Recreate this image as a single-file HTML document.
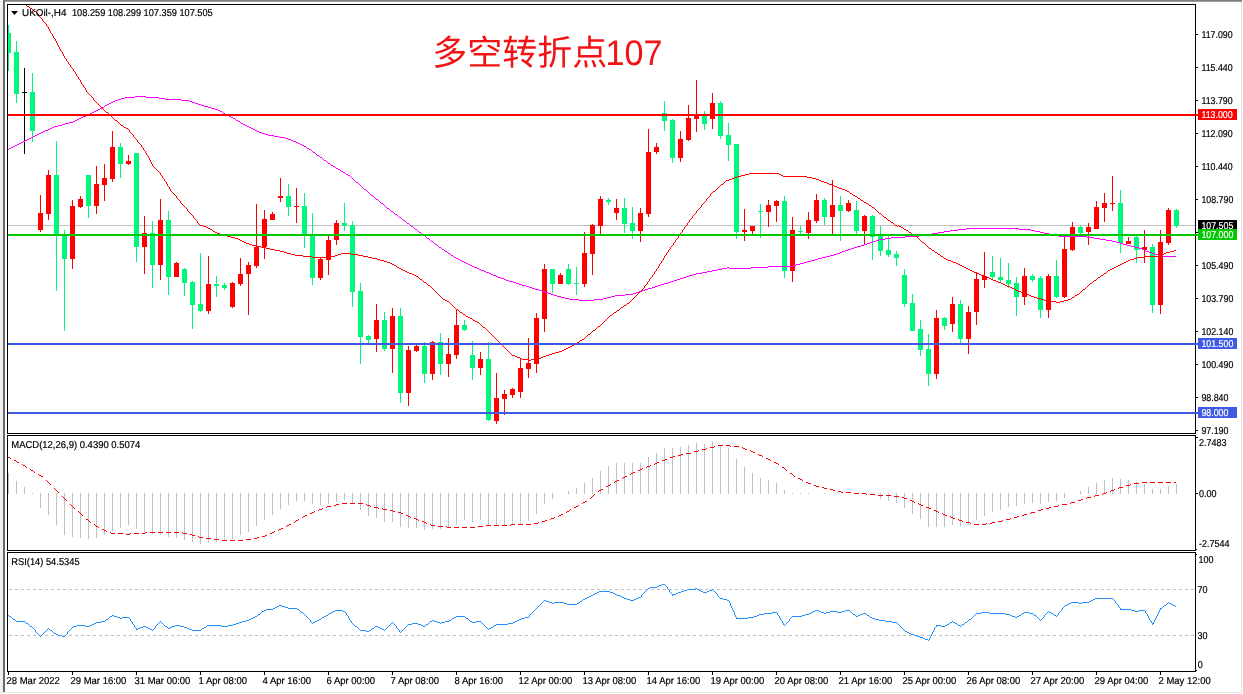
<!DOCTYPE html><html><head><meta charset="utf-8"><title>UKOil H4</title>
<style>html,body{margin:0;padding:0;background:#fff}body{width:1243px;height:694px;overflow:hidden}svg{display:block}text{font-family:"Liberation Sans","Noto Sans CJK SC",sans-serif;font-size:10px;text-rendering:geometricPrecision;fill:#000;stroke:#000;stroke-width:.2px}.w{fill:#fff;stroke:#fff}.ttl{font-size:35px;fill:#f21414;font-weight:400;stroke:none}</style></head><body>
<svg width="1243" height="694" viewBox="0 0 1243 694">
<rect width="1243" height="694" fill="#fff"/>
<g shape-rendering="crispEdges">
<rect x="0" y="0" width="1242" height="1" fill="#7c7c7c"/><rect x="0" y="1" width="1242" height="1" fill="#9c9c9c"/>
<rect x="0" y="0" width="3" height="694" fill="#f0f0f0"/>
<rect x="3" y="1" width="2" height="692" fill="#696969"/>
<rect x="1241" y="2" width="1" height="691" fill="#e3e3e3"/>
<rect x="3" y="692" width="1239" height="1" fill="#e3e3e3"/>
<rect x="7" y="4" width="1" height="668" fill="#000"/>
<rect x="1195" y="4" width="1" height="668" fill="#000"/>
<rect x="7" y="4" width="1189" height="1" fill="#000"/>
<rect x="7" y="433" width="1189" height="1" fill="#000"/>
<rect x="7" y="435" width="1189" height="1" fill="#000"/>
<rect x="7" y="550" width="1189" height="1" fill="#000"/>
<rect x="7" y="552" width="1189" height="1" fill="#000"/>
<rect x="7" y="671" width="1189" height="1" fill="#000"/>
<rect x="7" y="434" width="1" height="1" fill="#fff"/>
<rect x="1195" y="434" width="1" height="1" fill="#fff"/>
<rect x="7" y="551" width="1" height="1" fill="#fff"/>
<rect x="1195" y="551" width="1" height="1" fill="#fff"/>
<rect x="1196" y="34" width="2" height="1" fill="#000"/>
<rect x="1196" y="67" width="2" height="1" fill="#000"/>
<rect x="1196" y="100" width="2" height="1" fill="#000"/>
<rect x="1196" y="133" width="2" height="1" fill="#000"/>
<rect x="1196" y="166" width="2" height="1" fill="#000"/>
<rect x="1196" y="199" width="2" height="1" fill="#000"/>
<rect x="1196" y="232" width="2" height="1" fill="#000"/>
<rect x="1196" y="265" width="2" height="1" fill="#000"/>
<rect x="1196" y="298" width="2" height="1" fill="#000"/>
<rect x="1196" y="331" width="2" height="1" fill="#000"/>
<rect x="1196" y="364" width="2" height="1" fill="#000"/>
<rect x="1196" y="397" width="2" height="1" fill="#000"/>
<rect x="1196" y="430" width="2" height="1" fill="#000"/>
<rect x="1196" y="437" width="2" height="1" fill="#000"/>
<rect x="1196" y="493" width="2" height="1" fill="#000"/>
<rect x="1196" y="549" width="1" height="1" fill="#000"/>
<rect x="1196" y="554" width="1" height="1" fill="#000"/>
<rect x="1196" y="670" width="1" height="1" fill="#000"/>
<rect x="8" y="672" width="1" height="3" fill="#000"/>
<rect x="72" y="672" width="1" height="3" fill="#000"/>
<rect x="136" y="672" width="1" height="3" fill="#000"/>
<rect x="200" y="672" width="1" height="3" fill="#000"/>
<rect x="264" y="672" width="1" height="3" fill="#000"/>
<rect x="328" y="672" width="1" height="3" fill="#000"/>
<rect x="392" y="672" width="1" height="3" fill="#000"/>
<rect x="456" y="672" width="1" height="3" fill="#000"/>
<rect x="520" y="672" width="1" height="3" fill="#000"/>
<rect x="584" y="672" width="1" height="3" fill="#000"/>
<rect x="648" y="672" width="1" height="3" fill="#000"/>
<rect x="712" y="672" width="1" height="3" fill="#000"/>
<rect x="776" y="672" width="1" height="3" fill="#000"/>
<rect x="840" y="672" width="1" height="3" fill="#000"/>
<rect x="904" y="672" width="1" height="3" fill="#000"/>
<rect x="968" y="672" width="1" height="3" fill="#000"/>
<rect x="1032" y="672" width="1" height="3" fill="#000"/>
<rect x="1096" y="672" width="1" height="3" fill="#000"/>
<rect x="1160" y="672" width="1" height="3" fill="#000"/>
</g>
<defs><clipPath id="cm"><rect x="8" y="5" width="1187" height="428"/></clipPath><clipPath id="c2"><rect x="8" y="436" width="1187" height="114"/></clipPath><clipPath id="c3"><rect x="8" y="553" width="1187" height="118"/></clipPath><clipPath id="cb"><rect x="1198" y="220" width="39" height="9"/></clipPath></defs>
<g clip-path="url(#cm)" shape-rendering="crispEdges">
<rect x="8" y="225" width="1187" height="1" fill="#c0c0c0"/>
<rect x="8" y="25" width="1" height="46" fill="#00f77c"/>
<rect x="6" y="33" width="5" height="20" fill="#00f77c"/>
<rect x="16" y="41" width="1" height="62" fill="#00f77c"/>
<rect x="14" y="52" width="5" height="42" fill="#00f77c"/>
<rect x="24" y="68" width="1" height="86" fill="#000"/>
<rect x="22" y="92" width="5" height="1" fill="#000"/>
<rect x="32" y="73" width="1" height="69" fill="#00f77c"/>
<rect x="30" y="92" width="5" height="39" fill="#00f77c"/>
<rect x="40" y="195" width="1" height="37" fill="#ff0000"/>
<rect x="38" y="213" width="5" height="17" fill="#ff0000"/>
<rect x="48" y="170" width="1" height="50" fill="#ff0000"/>
<rect x="46" y="175" width="5" height="39" fill="#ff0000"/>
<rect x="56" y="141" width="1" height="150" fill="#00f77c"/>
<rect x="54" y="175" width="5" height="59" fill="#00f77c"/>
<rect x="64" y="230" width="1" height="101" fill="#00f77c"/>
<rect x="62" y="235" width="5" height="24" fill="#00f77c"/>
<rect x="72" y="200" width="1" height="69" fill="#ff0000"/>
<rect x="70" y="206" width="5" height="53" fill="#ff0000"/>
<rect x="80" y="196" width="1" height="12" fill="#ff0000"/>
<rect x="78" y="199" width="5" height="8" fill="#ff0000"/>
<rect x="88" y="175" width="1" height="43" fill="#00f77c"/>
<rect x="86" y="175" width="5" height="31" fill="#00f77c"/>
<rect x="96" y="166" width="1" height="48" fill="#ff0000"/>
<rect x="94" y="184" width="5" height="22" fill="#ff0000"/>
<rect x="104" y="164" width="1" height="37" fill="#ff0000"/>
<rect x="102" y="178" width="5" height="7" fill="#ff0000"/>
<rect x="112" y="131" width="1" height="51" fill="#ff0000"/>
<rect x="110" y="147" width="5" height="32" fill="#ff0000"/>
<rect x="120" y="143" width="1" height="35" fill="#00f77c"/>
<rect x="118" y="147" width="5" height="17" fill="#00f77c"/>
<rect x="128" y="155" width="1" height="10" fill="#ff0000"/>
<rect x="126" y="161" width="5" height="3" fill="#ff0000"/>
<rect x="136" y="153" width="1" height="109" fill="#00f77c"/>
<rect x="134" y="153" width="5" height="94" fill="#00f77c"/>
<rect x="144" y="216" width="1" height="58" fill="#ff0000"/>
<rect x="142" y="233" width="5" height="14" fill="#ff0000"/>
<rect x="152" y="221" width="1" height="67" fill="#00f77c"/>
<rect x="150" y="233" width="5" height="32" fill="#00f77c"/>
<rect x="160" y="199" width="1" height="81" fill="#ff0000"/>
<rect x="158" y="220" width="5" height="45" fill="#ff0000"/>
<rect x="168" y="211" width="1" height="84" fill="#00f77c"/>
<rect x="166" y="220" width="5" height="57" fill="#00f77c"/>
<rect x="176" y="262" width="1" height="15" fill="#ff0000"/>
<rect x="174" y="263" width="5" height="14" fill="#ff0000"/>
<rect x="184" y="268" width="1" height="28" fill="#00f77c"/>
<rect x="182" y="269" width="5" height="14" fill="#00f77c"/>
<rect x="192" y="281" width="1" height="48" fill="#00f77c"/>
<rect x="190" y="282" width="5" height="23" fill="#00f77c"/>
<rect x="200" y="253" width="1" height="59" fill="#00f77c"/>
<rect x="198" y="304" width="5" height="7" fill="#00f77c"/>
<rect x="208" y="256" width="1" height="58" fill="#ff0000"/>
<rect x="206" y="284" width="5" height="27" fill="#ff0000"/>
<rect x="216" y="276" width="1" height="21" fill="#00f77c"/>
<rect x="214" y="284" width="5" height="2" fill="#00f77c"/>
<rect x="224" y="283" width="1" height="7" fill="#00f77c"/>
<rect x="222" y="285" width="5" height="3" fill="#00f77c"/>
<rect x="232" y="282" width="1" height="26" fill="#ff0000"/>
<rect x="230" y="283" width="5" height="24" fill="#ff0000"/>
<rect x="240" y="258" width="1" height="28" fill="#ff0000"/>
<rect x="238" y="274" width="5" height="10" fill="#ff0000"/>
<rect x="248" y="262" width="1" height="53" fill="#ff0000"/>
<rect x="246" y="265" width="5" height="9" fill="#ff0000"/>
<rect x="256" y="204" width="1" height="64" fill="#ff0000"/>
<rect x="254" y="247" width="5" height="19" fill="#ff0000"/>
<rect x="264" y="210" width="1" height="49" fill="#ff0000"/>
<rect x="262" y="219" width="5" height="28" fill="#ff0000"/>
<rect x="272" y="212" width="1" height="8" fill="#ff0000"/>
<rect x="270" y="214" width="5" height="6" fill="#ff0000"/>
<rect x="280" y="178" width="1" height="24" fill="#ff0000"/>
<rect x="278" y="196" width="5" height="2" fill="#ff0000"/>
<rect x="288" y="184" width="1" height="32" fill="#00f77c"/>
<rect x="286" y="196" width="5" height="11" fill="#00f77c"/>
<rect x="296" y="188" width="1" height="35" fill="#ff0000"/>
<rect x="294" y="206" width="5" height="1" fill="#ff0000"/>
<rect x="304" y="193" width="1" height="55" fill="#00f77c"/>
<rect x="302" y="206" width="5" height="30" fill="#00f77c"/>
<rect x="312" y="213" width="1" height="72" fill="#00f77c"/>
<rect x="310" y="234" width="5" height="44" fill="#00f77c"/>
<rect x="320" y="258" width="1" height="22" fill="#ff0000"/>
<rect x="318" y="259" width="5" height="19" fill="#ff0000"/>
<rect x="328" y="236" width="1" height="39" fill="#ff0000"/>
<rect x="326" y="240" width="5" height="20" fill="#ff0000"/>
<rect x="336" y="220" width="1" height="25" fill="#ff0000"/>
<rect x="334" y="223" width="5" height="17" fill="#ff0000"/>
<rect x="344" y="203" width="1" height="28" fill="#00f77c"/>
<rect x="342" y="223" width="5" height="3" fill="#00f77c"/>
<rect x="352" y="221" width="1" height="86" fill="#00f77c"/>
<rect x="350" y="225" width="5" height="67" fill="#00f77c"/>
<rect x="360" y="283" width="1" height="81" fill="#00f77c"/>
<rect x="358" y="291" width="5" height="46" fill="#00f77c"/>
<rect x="368" y="335" width="1" height="8" fill="#00f77c"/>
<rect x="366" y="336" width="5" height="4" fill="#00f77c"/>
<rect x="376" y="304" width="1" height="48" fill="#ff0000"/>
<rect x="374" y="320" width="5" height="19" fill="#ff0000"/>
<rect x="384" y="312" width="1" height="39" fill="#00f77c"/>
<rect x="382" y="320" width="5" height="29" fill="#00f77c"/>
<rect x="392" y="308" width="1" height="65" fill="#ff0000"/>
<rect x="390" y="316" width="5" height="33" fill="#ff0000"/>
<rect x="400" y="308" width="1" height="95" fill="#00f77c"/>
<rect x="398" y="316" width="5" height="77" fill="#00f77c"/>
<rect x="408" y="346" width="1" height="60" fill="#ff0000"/>
<rect x="406" y="350" width="5" height="43" fill="#ff0000"/>
<rect x="416" y="345" width="1" height="7" fill="#ff0000"/>
<rect x="414" y="346" width="5" height="5" fill="#ff0000"/>
<rect x="424" y="342" width="1" height="41" fill="#00f77c"/>
<rect x="422" y="346" width="5" height="28" fill="#00f77c"/>
<rect x="432" y="341" width="1" height="39" fill="#ff0000"/>
<rect x="430" y="342" width="5" height="32" fill="#ff0000"/>
<rect x="440" y="333" width="1" height="42" fill="#00f77c"/>
<rect x="438" y="342" width="5" height="22" fill="#00f77c"/>
<rect x="448" y="338" width="1" height="39" fill="#ff0000"/>
<rect x="446" y="354" width="5" height="10" fill="#ff0000"/>
<rect x="456" y="310" width="1" height="49" fill="#ff0000"/>
<rect x="454" y="325" width="5" height="30" fill="#ff0000"/>
<rect x="464" y="320" width="1" height="11" fill="#00f77c"/>
<rect x="462" y="325" width="5" height="5" fill="#00f77c"/>
<rect x="472" y="341" width="1" height="39" fill="#00f77c"/>
<rect x="470" y="355" width="5" height="13" fill="#00f77c"/>
<rect x="480" y="352" width="1" height="23" fill="#ff0000"/>
<rect x="478" y="359" width="5" height="9" fill="#ff0000"/>
<rect x="488" y="342" width="1" height="79" fill="#00f77c"/>
<rect x="486" y="359" width="5" height="61" fill="#00f77c"/>
<rect x="496" y="373" width="1" height="51" fill="#ff0000"/>
<rect x="494" y="398" width="5" height="23" fill="#ff0000"/>
<rect x="504" y="390" width="1" height="25" fill="#ff0000"/>
<rect x="502" y="394" width="5" height="5" fill="#ff0000"/>
<rect x="512" y="388" width="1" height="10" fill="#ff0000"/>
<rect x="510" y="389" width="5" height="6" fill="#ff0000"/>
<rect x="520" y="358" width="1" height="40" fill="#ff0000"/>
<rect x="518" y="368" width="5" height="24" fill="#ff0000"/>
<rect x="528" y="338" width="1" height="40" fill="#ff0000"/>
<rect x="526" y="363" width="5" height="6" fill="#ff0000"/>
<rect x="536" y="313" width="1" height="60" fill="#ff0000"/>
<rect x="534" y="318" width="5" height="46" fill="#ff0000"/>
<rect x="544" y="264" width="1" height="68" fill="#ff0000"/>
<rect x="542" y="269" width="5" height="50" fill="#ff0000"/>
<rect x="552" y="269" width="1" height="24" fill="#00f77c"/>
<rect x="550" y="269" width="5" height="15" fill="#00f77c"/>
<rect x="560" y="273" width="1" height="11" fill="#ff0000"/>
<rect x="558" y="275" width="5" height="9" fill="#ff0000"/>
<rect x="568" y="264" width="1" height="21" fill="#00f77c"/>
<rect x="566" y="269" width="5" height="15" fill="#00f77c"/>
<rect x="576" y="267" width="1" height="28" fill="#00f77c"/>
<rect x="574" y="283" width="5" height="1" fill="#00f77c"/>
<rect x="584" y="232" width="1" height="55" fill="#ff0000"/>
<rect x="582" y="253" width="5" height="31" fill="#ff0000"/>
<rect x="592" y="224" width="1" height="51" fill="#ff0000"/>
<rect x="590" y="225" width="5" height="29" fill="#ff0000"/>
<rect x="600" y="196" width="1" height="38" fill="#ff0000"/>
<rect x="598" y="199" width="5" height="27" fill="#ff0000"/>
<rect x="608" y="198" width="1" height="7" fill="#00f77c"/>
<rect x="606" y="200" width="5" height="2" fill="#00f77c"/>
<rect x="616" y="199" width="1" height="21" fill="#ff0000"/>
<rect x="614" y="208" width="5" height="5" fill="#ff0000"/>
<rect x="624" y="198" width="1" height="35" fill="#00f77c"/>
<rect x="622" y="208" width="5" height="16" fill="#00f77c"/>
<rect x="632" y="207" width="1" height="32" fill="#00f77c"/>
<rect x="630" y="223" width="5" height="8" fill="#00f77c"/>
<rect x="640" y="208" width="1" height="34" fill="#ff0000"/>
<rect x="638" y="213" width="5" height="18" fill="#ff0000"/>
<rect x="648" y="129" width="1" height="88" fill="#ff0000"/>
<rect x="646" y="152" width="5" height="62" fill="#ff0000"/>
<rect x="656" y="143" width="1" height="11" fill="#ff0000"/>
<rect x="654" y="147" width="5" height="5" fill="#ff0000"/>
<rect x="664" y="101" width="1" height="30" fill="#00f77c"/>
<rect x="662" y="113" width="5" height="8" fill="#00f77c"/>
<rect x="672" y="119" width="1" height="44" fill="#00f77c"/>
<rect x="670" y="120" width="5" height="38" fill="#00f77c"/>
<rect x="680" y="131" width="1" height="31" fill="#ff0000"/>
<rect x="678" y="139" width="5" height="19" fill="#ff0000"/>
<rect x="688" y="105" width="1" height="36" fill="#ff0000"/>
<rect x="686" y="118" width="5" height="22" fill="#ff0000"/>
<rect x="696" y="80" width="1" height="52" fill="#ff0000"/>
<rect x="694" y="115" width="5" height="4" fill="#ff0000"/>
<rect x="704" y="111" width="1" height="19" fill="#00f77c"/>
<rect x="702" y="116" width="5" height="8" fill="#00f77c"/>
<rect x="712" y="93" width="1" height="36" fill="#ff0000"/>
<rect x="710" y="103" width="5" height="16" fill="#ff0000"/>
<rect x="720" y="101" width="1" height="38" fill="#00f77c"/>
<rect x="718" y="103" width="5" height="33" fill="#00f77c"/>
<rect x="728" y="123" width="1" height="38" fill="#00f77c"/>
<rect x="726" y="135" width="5" height="10" fill="#00f77c"/>
<rect x="736" y="144" width="1" height="95" fill="#00f77c"/>
<rect x="734" y="144" width="5" height="88" fill="#00f77c"/>
<rect x="744" y="209" width="1" height="32" fill="#ff0000"/>
<rect x="742" y="230" width="5" height="2" fill="#ff0000"/>
<rect x="752" y="226" width="1" height="8" fill="#ff0000"/>
<rect x="750" y="226" width="5" height="5" fill="#ff0000"/>
<rect x="760" y="204" width="1" height="34" fill="#00f77c"/>
<rect x="758" y="211" width="5" height="1" fill="#00f77c"/>
<rect x="768" y="200" width="1" height="27" fill="#ff0000"/>
<rect x="766" y="205" width="5" height="7" fill="#ff0000"/>
<rect x="776" y="200" width="1" height="22" fill="#ff0000"/>
<rect x="774" y="201" width="5" height="5" fill="#ff0000"/>
<rect x="784" y="196" width="1" height="82" fill="#00f77c"/>
<rect x="782" y="201" width="5" height="70" fill="#00f77c"/>
<rect x="792" y="217" width="1" height="65" fill="#ff0000"/>
<rect x="790" y="230" width="5" height="41" fill="#ff0000"/>
<rect x="800" y="226" width="1" height="9" fill="#00f77c"/>
<rect x="798" y="231" width="5" height="1" fill="#00f77c"/>
<rect x="808" y="212" width="1" height="27" fill="#ff0000"/>
<rect x="806" y="220" width="5" height="13" fill="#ff0000"/>
<rect x="816" y="194" width="1" height="29" fill="#ff0000"/>
<rect x="814" y="200" width="5" height="21" fill="#ff0000"/>
<rect x="824" y="198" width="1" height="27" fill="#00f77c"/>
<rect x="822" y="200" width="5" height="17" fill="#00f77c"/>
<rect x="832" y="180" width="1" height="55" fill="#ff0000"/>
<rect x="830" y="205" width="5" height="12" fill="#ff0000"/>
<rect x="840" y="196" width="1" height="45" fill="#00f77c"/>
<rect x="838" y="205" width="5" height="6" fill="#00f77c"/>
<rect x="848" y="200" width="1" height="12" fill="#ff0000"/>
<rect x="846" y="203" width="5" height="8" fill="#ff0000"/>
<rect x="856" y="201" width="1" height="34" fill="#00f77c"/>
<rect x="854" y="210" width="5" height="21" fill="#00f77c"/>
<rect x="864" y="215" width="1" height="29" fill="#ff0000"/>
<rect x="862" y="216" width="5" height="15" fill="#ff0000"/>
<rect x="872" y="215" width="1" height="45" fill="#00f77c"/>
<rect x="870" y="216" width="5" height="21" fill="#00f77c"/>
<rect x="880" y="226" width="1" height="30" fill="#00f77c"/>
<rect x="878" y="236" width="5" height="15" fill="#00f77c"/>
<rect x="888" y="236" width="1" height="21" fill="#00f77c"/>
<rect x="886" y="250" width="5" height="5" fill="#00f77c"/>
<rect x="896" y="251" width="1" height="15" fill="#00f77c"/>
<rect x="894" y="254" width="5" height="4" fill="#00f77c"/>
<rect x="904" y="269" width="1" height="38" fill="#00f77c"/>
<rect x="902" y="275" width="5" height="29" fill="#00f77c"/>
<rect x="912" y="294" width="1" height="37" fill="#00f77c"/>
<rect x="910" y="303" width="5" height="28" fill="#00f77c"/>
<rect x="920" y="320" width="1" height="36" fill="#00f77c"/>
<rect x="918" y="329" width="5" height="21" fill="#00f77c"/>
<rect x="928" y="334" width="1" height="52" fill="#00f77c"/>
<rect x="926" y="349" width="5" height="25" fill="#00f77c"/>
<rect x="936" y="310" width="1" height="69" fill="#ff0000"/>
<rect x="934" y="318" width="5" height="56" fill="#ff0000"/>
<rect x="944" y="317" width="1" height="13" fill="#00f77c"/>
<rect x="942" y="318" width="5" height="8" fill="#00f77c"/>
<rect x="952" y="297" width="1" height="35" fill="#ff0000"/>
<rect x="950" y="304" width="5" height="20" fill="#ff0000"/>
<rect x="960" y="300" width="1" height="43" fill="#00f77c"/>
<rect x="958" y="304" width="5" height="35" fill="#00f77c"/>
<rect x="968" y="306" width="1" height="48" fill="#ff0000"/>
<rect x="966" y="312" width="5" height="27" fill="#ff0000"/>
<rect x="976" y="273" width="1" height="52" fill="#ff0000"/>
<rect x="974" y="279" width="5" height="33" fill="#ff0000"/>
<rect x="984" y="252" width="1" height="36" fill="#ff0000"/>
<rect x="982" y="276" width="5" height="4" fill="#ff0000"/>
<rect x="992" y="256" width="1" height="24" fill="#00f77c"/>
<rect x="990" y="272" width="5" height="5" fill="#00f77c"/>
<rect x="1000" y="258" width="1" height="25" fill="#00f77c"/>
<rect x="998" y="277" width="5" height="3" fill="#00f77c"/>
<rect x="1008" y="263" width="1" height="25" fill="#00f77c"/>
<rect x="1006" y="280" width="5" height="4" fill="#00f77c"/>
<rect x="1016" y="277" width="1" height="39" fill="#00f77c"/>
<rect x="1014" y="283" width="5" height="14" fill="#00f77c"/>
<rect x="1024" y="268" width="1" height="37" fill="#ff0000"/>
<rect x="1022" y="276" width="5" height="21" fill="#ff0000"/>
<rect x="1032" y="274" width="1" height="8" fill="#00f77c"/>
<rect x="1030" y="276" width="5" height="4" fill="#00f77c"/>
<rect x="1040" y="276" width="1" height="42" fill="#00f77c"/>
<rect x="1038" y="278" width="5" height="32" fill="#00f77c"/>
<rect x="1048" y="274" width="1" height="44" fill="#ff0000"/>
<rect x="1046" y="276" width="5" height="34" fill="#ff0000"/>
<rect x="1056" y="260" width="1" height="38" fill="#00f77c"/>
<rect x="1054" y="276" width="5" height="21" fill="#00f77c"/>
<rect x="1064" y="237" width="1" height="61" fill="#ff0000"/>
<rect x="1062" y="249" width="5" height="48" fill="#ff0000"/>
<rect x="1072" y="222" width="1" height="29" fill="#ff0000"/>
<rect x="1070" y="227" width="5" height="23" fill="#ff0000"/>
<rect x="1080" y="226" width="1" height="8" fill="#00f77c"/>
<rect x="1078" y="227" width="5" height="6" fill="#00f77c"/>
<rect x="1088" y="223" width="1" height="22" fill="#ff0000"/>
<rect x="1086" y="227" width="5" height="5" fill="#ff0000"/>
<rect x="1096" y="201" width="1" height="28" fill="#ff0000"/>
<rect x="1094" y="207" width="5" height="22" fill="#ff0000"/>
<rect x="1104" y="193" width="1" height="29" fill="#ff0000"/>
<rect x="1102" y="203" width="5" height="5" fill="#ff0000"/>
<rect x="1112" y="176" width="1" height="35" fill="#ff0000"/>
<rect x="1110" y="203" width="5" height="1" fill="#ff0000"/>
<rect x="1120" y="190" width="1" height="63" fill="#00f77c"/>
<rect x="1118" y="203" width="5" height="40" fill="#00f77c"/>
<rect x="1128" y="237" width="1" height="7" fill="#ff0000"/>
<rect x="1126" y="241" width="5" height="3" fill="#ff0000"/>
<rect x="1136" y="236" width="1" height="27" fill="#00f77c"/>
<rect x="1134" y="237" width="5" height="13" fill="#00f77c"/>
<rect x="1144" y="230" width="1" height="33" fill="#ff0000"/>
<rect x="1142" y="247" width="5" height="3" fill="#ff0000"/>
<rect x="1152" y="244" width="1" height="69" fill="#00f77c"/>
<rect x="1150" y="247" width="5" height="58" fill="#00f77c"/>
<rect x="1160" y="230" width="1" height="84" fill="#ff0000"/>
<rect x="1158" y="242" width="5" height="63" fill="#ff0000"/>
<rect x="1168" y="208" width="1" height="37" fill="#ff0000"/>
<rect x="1166" y="210" width="5" height="33" fill="#ff0000"/>
<rect x="1176" y="209" width="1" height="19" fill="#00f77c"/>
<rect x="1174" y="210" width="5" height="16" fill="#00f77c"/>
<path transform="translate(0,.5)" d="M8 149h1m0-1h2m0-1h2m0-1h2m0-1h2m0-1h2m0-1h2m0-1h2m0-1h2m0-1h2m0-1h2m0-1h2m0-1h2m0-1h2m0-1h2m0-1h2m0-1h2m0-1h2m0-1h2m0-1h3m0-1h2m0-1h2m0-1h2m0-1h4m0-1h4m0-1h3m0-1h4m0-1h4m0-1h2m0-1h2m0-1h2m0-1h2m0-1h2m0-1h3m0-1h2m0-1h2m0-1h2m0-1h2m0-1h2m0-1h2m0-1h2m0-1h2m0-1h2m0-1h1m0-1h2m0-1h2m0-1h2m0-1h2m0-1h2m0-1h3m0-1h3m0-1h4m0-1h10m0-1h11m0 1h13m0 1h6m0 1h16m0 1h8m0 1h3m0 1h3m0 1h3m0 1h3m0 1h3m0 1h4m0 1h3m0 1h4m0 1h3m0 1h2m0 1h2m0 1h1m0 1h2m0 1h2m0 1h2m0 1h2m0 1h2m0 1h2m0 1h1m0 1h2m0 1h2m0 1h1m0 1h2m0 1h2m0 1h2m0 1h2m0 1h2m0 1h2m0 1h2m0 1h2m0 1h2m0 1h3m0 1h3m0 1h3m0 1h6m0 1h5m0 1h6m0 1h3m0 1h3m0 1h2m0 1h3m0 1h2m0 1h2m0 1h2m0 1h2m0 1h2m0 1h1m0 1h2m0 1h2m0 1h1m0 1h1m0 1h2m0 1h1m0 1h1m0 1h2m0 1h1m0 1h2m0 1h1m0 1h1m0 1h2m0 1h1m0 1h1m0 1h2m0 1h1m0 1h2m0 1h2m0 1h1m0 1h2m0 1h2m0 1h1m0 1h2m0 1h2m0 1h1m0 1h2m0 1h2m0 1h1m0 1h1m0 1h1m0 1h1m0 1h1m0 1h1m0 1h2m0 1h1m0 1h1m0 1h1m0 1h1m0 1h1m0 1h1m0 1h2m0 1h1m0 1h1m0 1h1m0 1h1m0 1h1m0 1h2m0 1h1m0 1h1m0 1h1m0 1h2m0 1h1m0 1h1m0 1h1m0 1h2m0 1h1m0 1h1m0 1h1m0 1h1m0 1h2m0 1h1m0 1h1m0 1h2m0 1h1m0 1h1m0 1h2m0 1h1m0 1h1m0 1h2m0 1h1m0 1h1m0 1h2m0 1h1m0 1h1m0 1h2m0 1h1m0 1h1m0 1h2m0 1h1m0 1h1m0 1h2m0 1h1m0 1h1m0 1h2m0 1h1m0 1h1m0 1h2m0 1h1m0 1h1m0 1h2m0 1h1m0 1h1m0 1h2m0 1h1m0 1h1m0 1h2m0 1h1m0 1h1m0 1h2m0 1h1m0 1h2m0 1h1m0 1h2m0 1h1m0 1h2m0 1h1m0 1h2m0 1h1m0 1h2m0 1h2m0 1h2m0 1h2m0 1h2m0 1h2m0 1h2m0 1h2m0 1h2m0 1h2m0 1h3m0 1h2m0 1h2m0 1h3m0 1h2m0 1h3m0 1h2m0 1h2m0 1h3m0 1h2m0 1h3m0 1h3m0 1h2m0 1h3m0 1h4m0 1h3m0 1h3m0 1h3m0 1h4m0 1h3m0 1h3m0 1h3m0 1h4m0 1h3m0 1h3m0 1h3m0 1h3m0 1h3m0 1h3m0 1h4m0 1h4m0 1h4m0 1h10m0 1h15m0-1h9m0-1h4m0-1h4m0-1h4m0-1h10m0-1h8m0-1h3m0-1h3m0-1h3m0-1h3m0-1h3m0-1h4m0-1h3m0-1h3m0-1h3m0-1h3m0-1h4m0-1h3m0-1h3m0-1h3m0-1h3m0-1h3m0-1h3m0-1h3m0-1h4m0-1h3m0-1h6m0-1h5m0-1h5m0-1h5m0-1h5m0-1h5m0-1h2m0 1h22m0-1h17m0-1h25m0-1h3m0-1h4m0-1h4m0-1h3m0-1h4m0-1h4m0-1h3m0-1h4m0-1h4m0-1h4m0-1h4m0-1h3m0-1h3m0-1h2m0-1h3m0-1h3m0-1h3m0-1h3m0-1h3m0-1h4m0-1h3m0-1h3m0-1h3m0-1h3m0-1h3m0-1h3m0-1h6m0-1h6m0-1h14m0-1h14m0-1h7m0-1h6m0-1h6m0-1h6m0-1h6m0-1h8m0-1h8m0-1h53m0 1h12m0 1h4m0 1h5m0 1h4m0 1h5m0 1h5m0 1h5m0 1h28m0 1h7m0 1h6m0 1h6m0 1h6m0 1h4m0 1h4m0 1h3m0 1h4m0 1h4m0 1h4m0 1h4m0 1h3m0 1h2m0 1h2m0 1h3m0 1h3m0 1h3m0 1h3m0 1h5m0 1h13" stroke="#ff00ff" fill="none"/>
<path transform="translate(0,.5)" d="M22 2h2m0 1h1m0 1h1m0 1h1m0 1h2m0 1h1m0 1h2m0 1h1m0 1h1m0 1h2m0 1h1m0 1h1m1 3h1m0 1h1m0 1h1m1 3h1m0 1h1m0 1h1m1 3h1m3 7h1m2 5h1m6 13h1m3 7h1m1 3h1m1 3h1m1 3h1m0 1h1m1 3h1m2 5h1m1 3h1m2 5h1m1 3h1m2 5h1m0 1h1m0 1h1m0 1h1m0 1h1m0 1h1m1 3h1m0 1h1m0 1h1m0 1h1m0 1h1m0 1h1m0 1h1m0 1h1m0 1h1m0 1h1m0 1h1m0 1h1m0 1h2m0 1h1m0 1h1m0 1h1m0 1h1m0 1h1m0 1h1m0 1h1m0 1h2m0 1h1m0 1h1m0 1h1m0 1h1m0 1h2m0 1h1m0 1h2m0 1h2m0 1h1m1 3h1m0 1h1m0 1h1m1 3h1m0 1h1m0 1h1m1 3h1m0 1h1m0 1h1m1 3h1m1 3h1m2 5h1m5 11h1m0 1h1m0 1h1m0 1h1m0 1h1m0 1h1m0 1h1m1 3h1m1 3h1m1 3h1m2 5h1m2 5h1m0 1h1m0 1h1m0 1h1m0 1h1m1 3h1m0 1h1m0 1h1m1 3h1m0 1h1m0 1h1m0 1h1m0 1h1m0 1h1m1 3h1m0 1h1m0 1h1m0 1h1m0 1h1m1 3h1m0 1h1m0 1h1m1 3h1m0 1h1m0 1h3m0 1h3m0 1h2m0 1h2m0 1h2m0 1h1m0 1h2m0 1h2m0 1h3m0 1h3m0 1h4m0 1h4m0 1h4m0 1h3m0 1h2m0 1h2m0 1h2m0 1h2m0 1h3m0 1h3m0 1h4m0 1h5m0 1h5m0 1h4m0 1h5m0 1h5m0 1h4m0 1h3m0 1h4m0 1h4m0 1h8m0 1h9m0 1h19m0-1h4m0-1h3m0-1h3m0-1h10m0 1h7m0 1h5m0 1h5m0 1h4m0 1h5m0 1h3m0 1h4m0 1h3m0 1h3m0 1h2m0 1h2m0 1h2m0 1h1m0 1h2m0 1h2m0 1h2m0 1h2m0 1h2m0 1h2m0 1h3m0 1h2m0 1h2m0 1h2m0 1h1m0 1h1m0 1h2m0 1h1m0 1h1m0 1h2m0 1h1m0 1h1m0 1h2m0 1h1m0 1h1m0 1h1m0 1h1m0 1h1m0 1h1m0 1h1m0 1h1m0 1h1m0 1h1m0 1h1m0 1h1m0 1h1m0 1h2m0 1h2m0 1h2m0 1h1m0 1h1m0 1h1m0 1h1m0 1h1m0 1h1m0 1h1m0 1h2m0 1h1m0 1h1m0 1h2m0 1h1m0 1h2m0 1h1m0 1h2m0 1h2m0 1h2m0 1h1m0 1h2m0 1h2m0 1h2m0 1h1m0 1h1m0 1h1m0 1h1m0 1h2m0 1h1m0 1h1m0 1h1m0 1h1m0 1h1m0 1h1m0 1h1m0 1h1m0 1h1m0 1h1m0 1h1m0 1h1m0 1h1m0 1h1m0 1h1m0 1h1m0 1h1m0 1h1m0 1h1m0 1h1m0 1h1m0 1h1m0 1h1m0 1h1m0 1h1m0 1h1m0 1h1m0 1h3m0 1h2m0 1h3m0 1h2m0 1h6m0 1h3m0-1h6m0-1h4m0-1h2m0-1h3m0-1h3m0-1h3m0-1h3m0-1h4m0-1h3m0-1h2m0-1h2m0-1h2m0-1h2m0-1h2m0-1h2m0-1h2m0-1h1m0-1h2m0-1h1m0-1h2m0-1h2m0-1h1m0-1h1m0-1h1m0-1h1m0-1h2m0-1h1m0-1h1m0-1h1m0-1h2m0-1h1m0-1h1m0-1h1m0-1h2m0-1h1m0-1h1m0-1h1m0-1h1m0-1h1m0-1h1m0-1h1m0-1h1m0-1h1m0-1h1m0-1h2m0-1h1m0-1h1m0-1h2m0-1h1m0-1h2m0-1h1m0-1h1m0-1h2m0-1h1m0-1h2m0-1h1m0-1h2m0-1h1m0-1h1m0-1h1m0-1h1m0-1h1m0-1h1m0-1h1m0-1h1m0-1h1m0-1h1m0-1h1m0-1h1m0-1h1m0-1h1m0-1h1m1-3h1m0-1h1m1-3h1m1-3h1m0-1h1m1-3h1m1-3h1m1-3h1m2-5h1m1-3h1m2-5h1m1-3h1m1-3h1m1-3h1m0-1h1m1-3h1m1-3h1m0-1h1m1-3h1m1-3h1m1-3h1m1-3h1m0-1h1m1-3h1m1-3h1m0-1h1m1-3h1m0-1h1m0-1h1m1-3h1m0-1h1m0-1h1m0-1h1m1-3h1m0-1h1m0-1h1m0-1h1m1-3h1m0-1h1m0-1h1m1-3h1m0-1h1m0-1h2m0-1h1m0-1h1m0-1h1m0-1h1m0-1h1m0-1h1m0-1h2m0-1h1m0-1h1m0-1h1m0-1h3m0-1h3m0-1h2m0-1h3m0-1h4m0-1h4m0-1h4m0-1h30m0 1h2m0 1h2m0 1h24m0 1h5m0 1h4m0 1h3m0 1h2m0 1h3m0 1h3m0 1h2m0 1h3m0 1h2m0 1h3m0 1h2m0 1h3m0 1h3m0 1h2m0 1h2m0 1h1m0 1h2m0 1h1m0 1h2m0 1h2m0 1h1m0 1h2m0 1h1m0 1h2m0 1h1m0 1h2m0 1h2m0 1h1m0 1h2m0 1h1m0 1h2m0 1h1m0 1h1m0 1h1m0 1h1m0 1h1m0 1h2m0 1h1m0 1h1m0 1h1m0 1h2m0 1h1m0 1h1m0 1h2m0 1h1m0 1h2m0 1h1m0 1h1m0 1h2m0 1h1m0-1h1m0 1h2m0 1h2m0 1h1m0 1h2m0 1h2m0 1h1m0 1h2m0 1h1m0 1h2m0 1h1m0 1h2m0 1h1m0 1h1m0 1h1m0 1h1m0 1h1m0 1h2m0 1h1m0 1h1m0 1h1m0 1h1m0 1h1m0 1h2m0 1h1m0 1h2m0 1h1m0 1h2m0 1h1m0 1h2m0 1h1m0 1h2m0 1h1m0 1h2m0 1h2m0 1h3m0 1h2m0 1h3m0 1h2m0 1h2m0 1h2m0 1h2m0 1h2m0 1h2m0 1h2m0 1h2m0 1h2m0 1h3m0 1h2m0 1h2m0 1h3m0 1h2m0 1h3m0 1h2m0 1h2m0 1h3m0 1h2m0 1h3m0 1h2m0 1h2m0 1h2m0 1h3m0 1h2m0 1h2m0 1h2m0 1h2m0 1h3m0 1h2m0 1h3m0 1h3m0 1h2m0 1h3m0 1h3m0 1h4m0 1h3m0 1h3m0 1h9m0 1h4m0-1h4m0-1h4m0-1h3m0-1h1m0-1h2m0-1h1m0-1h2m0-1h2m0-1h1m0-1h1m0-1h1m0-1h1m0-1h2m0-1h1m0-1h1m0-1h1m0-1h1m0-1h1m0-1h2m0-1h1m0-1h1m0-1h2m0-1h1m0-1h1m0-1h2m0-1h1m0-1h2m0-1h1m0-1h2m0-1h1m0-1h1m0-1h2m0-1h2m0-1h2m0-1h2m0-1h2m0-1h2m0-1h2m0-1h2m0-1h2m0-1h2m0-1h2m0-1h4m0-1h3m0-1h8m0-1h14m0-1h3m0-1h2m0-1h2m0-1h4m0-1h4m0-1h2" stroke="#ff0000" fill="none"/>
<path transform="translate(.5,0)" d="M38 14v2m4 3v2m4 3v2m2 1v2m1 0v2m1 0v2m2 1v2m1 0v2m2 1v2m1 0v2m1 0v2m1 0v2m1 0v2m1 0v2m2 1v2m1 0v2m1 0v2m2 1v2m2 1v2m2 1v2m3 2v2m2 1v2m1 0v2m2 1v2m2 1v2m1 0v2m2 1v2m2 1v2m1 0v2m7 6v2m36 30v2m4 3v2m4 3v2m4 3v2m2 1v2m2 1v2m1 0v2m2 1v2m1 0v2m1 0v2m1 0v2m1 0v2m8 7v2m2 1v2m2 1v2m2 1v2m1 0v2m2 1v2m1 0v2m6 5v2m4 3v2m7 6v2m6 5v2m4 3v2m447 63v2m3-6v2m2-5v2m3-6v2m2-5v2m2-5v2m2-5v2m1-4v2m2-5v2m2-5v2m1-4v2m2-5v2m2-5v2m2-5v2m3-6v2m2-5v2m3-6v2m2-5v2m2-5v2m2-5v2m3-6v2m2-5v2m3-6v2m4-7v2m5-8v2m5-8v2m4-7v2" stroke="#ff0000" fill="none"/>
<rect x="8" y="114" width="1187" height="2" fill="#ff0000"/>
<rect x="8" y="234" width="1187" height="2" fill="#00c800"/>
<rect x="8" y="343" width="1187" height="2" fill="#4059e3"/>
<rect x="8" y="412" width="1187" height="2" fill="#4059e3"/>
</g>
<g clip-path="url(#c2)" shape-rendering="crispEdges">
<rect x="8" y="473" width="1" height="21" fill="#c0c0c0"/>
<rect x="16" y="481" width="1" height="13" fill="#c0c0c0"/>
<rect x="24" y="487" width="1" height="7" fill="#c0c0c0"/>
<rect x="32" y="493" width="1" height="1" fill="#c0c0c0"/>
<rect x="40" y="493" width="1" height="15" fill="#c0c0c0"/>
<rect x="48" y="493" width="1" height="22" fill="#c0c0c0"/>
<rect x="56" y="493" width="1" height="32" fill="#c0c0c0"/>
<rect x="64" y="493" width="1" height="42" fill="#c0c0c0"/>
<rect x="72" y="493" width="1" height="44" fill="#c0c0c0"/>
<rect x="80" y="493" width="1" height="45" fill="#c0c0c0"/>
<rect x="88" y="493" width="1" height="46" fill="#c0c0c0"/>
<rect x="96" y="493" width="1" height="45" fill="#c0c0c0"/>
<rect x="104" y="493" width="1" height="42" fill="#c0c0c0"/>
<rect x="112" y="493" width="1" height="38" fill="#c0c0c0"/>
<rect x="120" y="493" width="1" height="35" fill="#c0c0c0"/>
<rect x="128" y="493" width="1" height="32" fill="#c0c0c0"/>
<rect x="136" y="493" width="1" height="36" fill="#c0c0c0"/>
<rect x="144" y="493" width="1" height="39" fill="#c0c0c0"/>
<rect x="152" y="493" width="1" height="41" fill="#c0c0c0"/>
<rect x="160" y="493" width="1" height="42" fill="#c0c0c0"/>
<rect x="168" y="493" width="1" height="44" fill="#c0c0c0"/>
<rect x="176" y="493" width="1" height="45" fill="#c0c0c0"/>
<rect x="184" y="493" width="1" height="47" fill="#c0c0c0"/>
<rect x="192" y="493" width="1" height="49" fill="#c0c0c0"/>
<rect x="200" y="493" width="1" height="51" fill="#c0c0c0"/>
<rect x="208" y="493" width="1" height="50" fill="#c0c0c0"/>
<rect x="216" y="493" width="1" height="49" fill="#c0c0c0"/>
<rect x="224" y="493" width="1" height="48" fill="#c0c0c0"/>
<rect x="232" y="493" width="1" height="46" fill="#c0c0c0"/>
<rect x="240" y="493" width="1" height="42" fill="#c0c0c0"/>
<rect x="248" y="493" width="1" height="39" fill="#c0c0c0"/>
<rect x="256" y="493" width="1" height="33" fill="#c0c0c0"/>
<rect x="264" y="493" width="1" height="27" fill="#c0c0c0"/>
<rect x="272" y="493" width="1" height="22" fill="#c0c0c0"/>
<rect x="280" y="493" width="1" height="16" fill="#c0c0c0"/>
<rect x="288" y="493" width="1" height="12" fill="#c0c0c0"/>
<rect x="296" y="493" width="1" height="8" fill="#c0c0c0"/>
<rect x="304" y="493" width="1" height="8" fill="#c0c0c0"/>
<rect x="312" y="493" width="1" height="11" fill="#c0c0c0"/>
<rect x="320" y="493" width="1" height="12" fill="#c0c0c0"/>
<rect x="328" y="493" width="1" height="11" fill="#c0c0c0"/>
<rect x="336" y="493" width="1" height="9" fill="#c0c0c0"/>
<rect x="344" y="493" width="1" height="7" fill="#c0c0c0"/>
<rect x="352" y="493" width="1" height="10" fill="#c0c0c0"/>
<rect x="360" y="493" width="1" height="17" fill="#c0c0c0"/>
<rect x="368" y="493" width="1" height="23" fill="#c0c0c0"/>
<rect x="376" y="493" width="1" height="25" fill="#c0c0c0"/>
<rect x="384" y="493" width="1" height="29" fill="#c0c0c0"/>
<rect x="392" y="493" width="1" height="29" fill="#c0c0c0"/>
<rect x="400" y="493" width="1" height="34" fill="#c0c0c0"/>
<rect x="408" y="493" width="1" height="35" fill="#c0c0c0"/>
<rect x="416" y="493" width="1" height="35" fill="#c0c0c0"/>
<rect x="424" y="493" width="1" height="37" fill="#c0c0c0"/>
<rect x="432" y="493" width="1" height="36" fill="#c0c0c0"/>
<rect x="440" y="493" width="1" height="36" fill="#c0c0c0"/>
<rect x="448" y="493" width="1" height="35" fill="#c0c0c0"/>
<rect x="456" y="493" width="1" height="31" fill="#c0c0c0"/>
<rect x="464" y="493" width="1" height="27" fill="#c0c0c0"/>
<rect x="472" y="493" width="1" height="29" fill="#c0c0c0"/>
<rect x="480" y="493" width="1" height="27" fill="#c0c0c0"/>
<rect x="488" y="493" width="1" height="33" fill="#c0c0c0"/>
<rect x="496" y="493" width="1" height="33" fill="#c0c0c0"/>
<rect x="504" y="493" width="1" height="33" fill="#c0c0c0"/>
<rect x="512" y="493" width="1" height="32" fill="#c0c0c0"/>
<rect x="520" y="493" width="1" height="31" fill="#c0c0c0"/>
<rect x="528" y="493" width="1" height="28" fill="#c0c0c0"/>
<rect x="536" y="493" width="1" height="21" fill="#c0c0c0"/>
<rect x="544" y="493" width="1" height="11" fill="#c0c0c0"/>
<rect x="552" y="493" width="1" height="6" fill="#c0c0c0"/>
<rect x="568" y="491" width="1" height="3" fill="#c0c0c0"/>
<rect x="576" y="488" width="1" height="6" fill="#c0c0c0"/>
<rect x="584" y="483" width="1" height="11" fill="#c0c0c0"/>
<rect x="592" y="478" width="1" height="16" fill="#c0c0c0"/>
<rect x="600" y="471" width="1" height="23" fill="#c0c0c0"/>
<rect x="608" y="466" width="1" height="28" fill="#c0c0c0"/>
<rect x="616" y="463" width="1" height="31" fill="#c0c0c0"/>
<rect x="624" y="463" width="1" height="31" fill="#c0c0c0"/>
<rect x="632" y="463" width="1" height="31" fill="#c0c0c0"/>
<rect x="640" y="463" width="1" height="31" fill="#c0c0c0"/>
<rect x="648" y="457" width="1" height="37" fill="#c0c0c0"/>
<rect x="656" y="453" width="1" height="41" fill="#c0c0c0"/>
<rect x="664" y="448" width="1" height="46" fill="#c0c0c0"/>
<rect x="672" y="448" width="1" height="46" fill="#c0c0c0"/>
<rect x="680" y="447" width="1" height="47" fill="#c0c0c0"/>
<rect x="688" y="445" width="1" height="49" fill="#c0c0c0"/>
<rect x="696" y="443" width="1" height="51" fill="#c0c0c0"/>
<rect x="704" y="444" width="1" height="50" fill="#c0c0c0"/>
<rect x="712" y="442" width="1" height="52" fill="#c0c0c0"/>
<rect x="720" y="446" width="1" height="48" fill="#c0c0c0"/>
<rect x="728" y="448" width="1" height="46" fill="#c0c0c0"/>
<rect x="736" y="459" width="1" height="35" fill="#c0c0c0"/>
<rect x="744" y="467" width="1" height="27" fill="#c0c0c0"/>
<rect x="752" y="473" width="1" height="21" fill="#c0c0c0"/>
<rect x="760" y="478" width="1" height="16" fill="#c0c0c0"/>
<rect x="768" y="480" width="1" height="14" fill="#c0c0c0"/>
<rect x="776" y="483" width="1" height="11" fill="#c0c0c0"/>
<rect x="784" y="490" width="1" height="4" fill="#c0c0c0"/>
<rect x="792" y="493" width="1" height="1" fill="#c0c0c0"/>
<rect x="800" y="493" width="1" height="1" fill="#c0c0c0"/>
<rect x="808" y="493" width="1" height="1" fill="#c0c0c0"/>
<rect x="824" y="493" width="1" height="1" fill="#c0c0c0"/>
<rect x="880" y="493" width="1" height="6" fill="#c0c0c0"/>
<rect x="888" y="493" width="1" height="8" fill="#c0c0c0"/>
<rect x="896" y="493" width="1" height="10" fill="#c0c0c0"/>
<rect x="904" y="493" width="1" height="15" fill="#c0c0c0"/>
<rect x="912" y="493" width="1" height="21" fill="#c0c0c0"/>
<rect x="920" y="493" width="1" height="26" fill="#c0c0c0"/>
<rect x="928" y="493" width="1" height="34" fill="#c0c0c0"/>
<rect x="936" y="493" width="1" height="34" fill="#c0c0c0"/>
<rect x="944" y="493" width="1" height="34" fill="#c0c0c0"/>
<rect x="952" y="493" width="1" height="32" fill="#c0c0c0"/>
<rect x="960" y="493" width="1" height="33" fill="#c0c0c0"/>
<rect x="968" y="493" width="1" height="32" fill="#c0c0c0"/>
<rect x="976" y="493" width="1" height="27" fill="#c0c0c0"/>
<rect x="984" y="493" width="1" height="23" fill="#c0c0c0"/>
<rect x="992" y="493" width="1" height="19" fill="#c0c0c0"/>
<rect x="1000" y="493" width="1" height="17" fill="#c0c0c0"/>
<rect x="1008" y="493" width="1" height="14" fill="#c0c0c0"/>
<rect x="1016" y="493" width="1" height="13" fill="#c0c0c0"/>
<rect x="1024" y="493" width="1" height="11" fill="#c0c0c0"/>
<rect x="1032" y="493" width="1" height="10" fill="#c0c0c0"/>
<rect x="1040" y="493" width="1" height="11" fill="#c0c0c0"/>
<rect x="1048" y="493" width="1" height="9" fill="#c0c0c0"/>
<rect x="1056" y="493" width="1" height="8" fill="#c0c0c0"/>
<rect x="1064" y="493" width="1" height="5" fill="#c0c0c0"/>
<rect x="1080" y="491" width="1" height="3" fill="#c0c0c0"/>
<rect x="1088" y="487" width="1" height="7" fill="#c0c0c0"/>
<rect x="1096" y="483" width="1" height="11" fill="#c0c0c0"/>
<rect x="1104" y="480" width="1" height="14" fill="#c0c0c0"/>
<rect x="1112" y="478" width="1" height="16" fill="#c0c0c0"/>
<rect x="1120" y="479" width="1" height="15" fill="#c0c0c0"/>
<rect x="1128" y="480" width="1" height="14" fill="#c0c0c0"/>
<rect x="1136" y="482" width="1" height="12" fill="#c0c0c0"/>
<rect x="1144" y="484" width="1" height="10" fill="#c0c0c0"/>
<rect x="1152" y="489" width="1" height="5" fill="#c0c0c0"/>
<rect x="1160" y="489" width="1" height="5" fill="#c0c0c0"/>
<rect x="1168" y="486" width="1" height="8" fill="#c0c0c0"/>
<rect x="1176" y="484" width="1" height="10" fill="#c0c0c0"/>
<path transform="translate(0,.5)" d="M8 457h2m0 1h1m3 2h2m0 1h1m0 1h2m3 2h1m0 1h2m0 1h1m0 1h1m3 2h1m0 1h2m0 1h1m0 1h1m3 2h1m0 1h2m0 1h2m3 4h1m0 1h1m0 1h1m0 1h1m0 1h1m3 4h1m0 1h1m0 1h1m0 1h1m0 1h1m3 4h1m0 1h1m0 1h1m0 1h1m0 1h1m3 4h1m0 1h1m0 1h1m0 1h1m0 1h1m3 3h1m0 1h1m0 1h1m0 1h1m0 1h1m3 4h2m0 1h1m0 1h1m0 1h1m3 2h1m0 1h1m0 1h2m0 1h1m3 2h2m0 1h2m0 1h1m3 1h1m0 1h4m3 0h5m3 1h4m0-1h1m3 0h5m3 0h3m0-1h2m3 0h5m3 0h5m3 0h5m3 0h5m3 0h1m0 1h4m3 1h2m0 1h3m3 1h1m0 1h4m3 1h5m3 1h5m3 1h5m3 0h5m3 0h5m3-1h5m3-1h3m0-1h2m3-1h3m0-1h2m3-2h2m0-1h2m0-1h1m3-1h1m0-1h2m0-1h2m3-2h1m0-1h2m0-1h2m3-2h1m0-1h1m0-1h2m0-1h1m3-2h1m0-1h2m0-1h2m3-2h2m0-1h2m0-1h1m3-1h1m0-1h3m0-1h1m3-1h1m0-1h4m3-1h2m0-1h3m3-1h5m3 0h5m3 0h5m3 1h1m0 1h3m0 1h1m3 1h4m0 1h1m3 0h1m0 1h4m3 1h3m0 1h2m3 1h3m0 1h2m3 2h2m0 1h2m0 1h1m3 1h2m0 1h2m0 1h1m3 1h2m0 1h2m0 1h1m3 1h1m0 1h4m3 1h5m3 0h1m0 1h4m3 0h5m3 0h5m3 0h5m3-1h5m3-1h5m3 0h5m3 0h5m3 0h1m0-1h4m3 0h5m3 0h5m3-1h4m0-1h1m3-1h3m0-1h2m3-1h1m0-1h3m0-1h1m3-1h1m0-1h2m0-1h2m3-2h1m0-1h2m0-1h1m0-1h1m3-2h2m0-1h2m0-1h1m3-2h1m0-1h2m0-1h2m3-3h1m0-1h1m0-1h1m0-1h1m0-1h1m3-3h1m0-1h2m0-1h2m3-3h2m0-1h2m0-1h1m3-2h1m0-1h2m0-1h2m3-2h1m0-1h2m0-1h2m3-2h1m0-1h2m0-1h2m3-2h2m0-1h2m0-1h1m3-1h1m0-1h3m0-1h1m3-1h1m0-1h2m0-1h2m3-2h3m0-1h2m3-2h3m0-1h2m3-1h3m0-1h2m3-1h5m3-2h4m0-1h1m3-1h4m0-1h1m3-1h4m0-1h1m3-1h5m3 0h4m0 1h1m3 0h5m3 1h1m0 1h2m0 1h2m3 1h1m0 1h2m0 1h2m3 2h1m0 1h3m0 1h1m3 2h2m0 1h2m0 1h1m3 2h2m0 1h2m0 1h1m3 3h2m0 1h1m0 1h1m0 1h1m3 3h2m0 1h1m0 1h1m0 1h1m3 2h2m0 1h2m0 1h1m3 2h2m0 1h3m3 2h2m0 1h3m3 1h2m0 1h3m3 1h3m0 1h2m3 1h3m0 1h2m3 0h5m3 1h5m3 0h4m0 1h1m3 0h5m3 1h5m3 0h5m3 1h5m3 1h2m0 1h3m3 2h2m0 1h2m0 1h1m3 1h1m0 1h2m0 1h2m3 2h3m0 1h2m3 2h2m0 1h2m0 1h1m3 1h1m0 1h2m0 1h2m3 1h1m0 1h2m0 1h2m3 1h1m0 1h3m0 1h1m3 1h4m0 1h1m3 1h5m3 0h4m0-1h1m3 0h2m0-1h3m3-1h4m0-1h1m3-1h4m0-1h1m3-1h3m0-1h2m3-1h2m0-1h3m3-1h1m0-1h4m3-2h3m0-1h2m3-1h3m0-1h2m3-1h4m0-1h1m3-1h5m3-1h1m0-1h4m3-2h3m0-1h2m3-1h1m0-1h4m3-1h1m0-1h4m3-1h1m0-1h3m0-1h1m3-1h1m0-1h3m0-1h1m3-1h1m0-1h4m3-2h4m0-1h1m3-1h5m3-1h5m3 0h5m3 0h5m3 0h5m3 0h2" stroke="#ff0000" fill="none"/>
</g>
<g clip-path="url(#c3)" shape-rendering="crispEdges">
<line x1="9" y1="589.5" x2="1195" y2="589.5" stroke="#c0c0c0" stroke-dasharray="3 3"/>
<line x1="9" y1="635.5" x2="1195" y2="635.5" stroke="#c0c0c0" stroke-dasharray="3 3"/>
<path transform="translate(0,.5)" d="M8 615h1m0 1h2m0 1h1m0 1h1m0 1h2m0 1h1m0 1h9m0 1h1m0 1h2m0 1h1m0 1h1m0 1h2m0 1h1m0 1h1m0 1h1m1 3h1m0 1h1m0 1h1m0 1h1m0 1h1m0-1h1m0-1h1m0-1h1m0-1h1m0-1h1m0-1h1m0-1h1m0-1h1m0 1h1m0 1h2m0 1h1m0 1h1m0 1h2m0 1h2m0 1h4m0 1h3m0-1h1m0-1h1m1-3h1m0-1h1m0-1h1m0-1h1m0-1h1m0-1h4m0-1h8m0 1h5m0-1h2m0-1h2m0-1h2m0-1h5m0-1h4m0-1h1m0-1h2m0-1h1m0-1h1m0-1h2m0-1h2m0 1h3m0 1h3m0 1h2m0-1h7m0 1h1m1 3h1m1 3h1m1 3h1m1 2h1m0-1h2m0-1h3m0-1h3m0 1h2m0 1h2m0 1h2m0 1h1m0-1h1m0-1h1m1-3h1m0-1h1m0-1h1m0-1h1m0-1h1m0 1h1m0 1h1m0 1h1m0 1h1m0 1h2m0 1h1m0 1h2m0-1h2m0-1h3m0-1h5m0 1h4m0 1h3m0 1h2m0 1h3m0 1h9m0-1h1m0-1h2m0-1h2m0-1h1m0-1h14m0 1h7m0-1h5m0-1h3m0-1h3m0-1h3m0-1h4m0-1h3m0-1h2m0-1h2m0-1h2m0-1h2m0-1h1m0-1h2m0-1h1m0-1h1m0-1h2m0-1h2m0-1h7m0-1h2m0-1h2m0-1h2m0-1h3m0 1h3m0 1h3m0 1h9m0 1h2m0 1h1m0 1h1m0 1h2m0 1h1m0 1h1m0 1h1m0 1h1m0 1h1m0 1h1m0 1h1m1 3h1m0 1h1m0-1h2m0-1h2m0-1h2m0-1h2m0-1h1m0-1h2m0-1h2m0-1h2m0-1h1m0-1h2m0-1h2m0-1h2m0-1h8m0 1h2m0 1h1m1 3h1m2 5h1m1 3h1m0 1h1m0 1h1m0 1h2m0 1h1m0 1h1m0 1h1m0 1h6m0 1h3m0-1h2m0-1h1m0-1h2m0-1h1m0-1h3m0 1h2m0 1h2m0 1h2m0 1h1m0-1h1m0-1h1m0-1h1m0-1h1m0-1h1m0-1h1m0-1h1m0-1h1m0 1h1m0 1h1m0 1h1m1 3h1m0 1h1m1 3h1m0-1h1m0-1h1m0-1h1m0-1h1m0-1h1m0-1h1m0-1h1m0-1h4m0-1h6m0 1h3m0 1h2m0 1h2m0-1h1m0-1h2m0-1h1m0-1h1m0-1h2m0-1h2m0 1h3m0 1h3m0 1h1m0-1h4m0-1h4m0-1h2m0-1h1m0-1h2m0-1h2m0-1h9m0 1h1m0 1h2m0 1h1m0 1h1m0 1h2m0 1h4m0-1h5m0 1h1m0 1h1m0 1h1m0 1h1m0 1h1m0 1h1m0 1h1m0 1h1m0-1h2m0-1h2m0-1h1m0-1h2m0-1h12m0-1h5m0-1h2m0-1h2m0-1h2m0-1h2m0-1h4m0-1h4m1-3h1m0-1h1m0-1h1m0-1h1m0-1h1m0-1h1m0-1h1m0-1h1m0-1h1m0-1h1m0-1h1m0-1h1m0-1h1m0-1h1m0-1h2m0 1h3m0 1h3m0 1h2m0-1h10m0 1h3m0 1h10m0-1h2m0-1h1m0-1h2m0-1h1m0-1h2m0-1h2m0-1h2m0-1h2m0-1h2m0-1h2m0-1h2m0-1h2m0-1h11m0 1h3m0 1h2m0 1h2m0 1h3m0 1h2m0 1h2m0 1h3m0 1h3m0 1h4m0-1h2m0-1h2m0-1h3m1-3h1m0-1h1m0-1h1m0-1h1m0-1h1m0-1h1m0-1h2m0-1h7m0-1h2m0-1h3m0-1h3m0 1h1m0 1h1m1 3h1m1 3h1m0 1h1m1 1h3m0-1h2m0-1h3m0-1h3m0-1h3m0-1h8m0-1h2m0 1h2m0 1h2m0 1h2m0 1h4m0-1h2m0-1h3m0-1h1m0 1h1m0 1h1m0 1h1m0 1h1m1 3h1m0 1h1m0 1h3m0 1h4m0 1h2m8 18h11m0-1h6m0-1h3m0-1h2m0-1h5m0-1h8m0-1h5m1 3h1m2 5h1m2 5h1m0-1h1m0-1h1m0-1h1m0-1h1m1-3h1m0-1h1m0-1h10m0-1h3m0-1h4m0-1h2m0-1h2m0-1h2m0-1h4m0 1h2m0 1h3m0 1h2m0-1h4m0-1h7m0 1h5m0-1h3m0-1h5m0 1h1m0 1h1m0 1h1m0 1h2m0 1h1m0 1h2m0-1h2m0-1h3m0-1h3m0 1h1m0 1h2m0 1h1m0 1h2m0 1h3m0 1h4m0 1h6m0 1h7m0 1h5m0 1h1m0 1h1m0 1h1m0 1h1m0 1h1m0 1h1m0 1h1m0 1h1m0 1h2m0 1h2m0 1h2m0 1h3m0 1h3m0 1h3m0 1h3m0 1h2m0 1h3m0 1h1m6-13h1m1-2h4m0 1h4m0-1h2m0-1h2m0-1h1m0-1h2m0-1h1m0 1h2m0 1h2m0 1h1m0 1h2m0 1h1m0-1h1m0-1h2m0-1h1m0-1h2m0-1h1m0-1h1m0-1h2m0-1h1m0-1h1m0-1h1m0-1h1m0-1h1m0-1h5m0-1h8m0 1h16m0 1h5m0 1h2m0 1h3m0 1h2m0-1h2m0-1h2m0-1h1m0-1h2m0-1h5m0 1h4m0 1h1m0 1h2m0 1h1m0 1h1m0 1h1m0 1h1m0 1h1m0-1h1m0-1h1m0-1h1m1-3h1m0-1h1m0-1h1m0-1h1m0 1h2m0 1h2m0 1h1m0 1h2m0 1h1m0-1h1m1-3h1m0-1h1m0-1h1m1-3h1m0-1h1m0-1h2m0-1h2m0-1h2m0-1h8m0 1h3m0-1h7m0-1h2m0-1h2m0-1h2m0-1h18m0 1h1m0 1h1m1 3h1m0 1h1m1 3h1m1 2h10m0 1h4m0 1h4m0-1h6m1 3h1m3 7h1m10-12h1m0-1h1m0-1h1m0-1h2m0-1h1m0-1h1m0-1h1m0 1h2m0 1h2m0 1h2m0 1h1" stroke="#1e90ff" fill="none"/>
<path transform="translate(.5,0)" d="M35 630v2m32 0v2m63-15v2m2 1v2m2 1v2m2 1v2m19-4v2m155-8v2m36-9v2m2 1v2m1 0v2m2 1v2m45 3v2m3 2v2m130-17v2m112-22v2m26-10v2m2 1v2m3 2v2m45-2v2m12 5v2m1 0v3m1 0v2m1 0v2m1 0v2m1 0v3m1 0v2m1 0v2m41-6v2m2 1v2m1 0v2m2 1v2m1 0v2m6-6v2m140 17v2m1-4v2m1-4v2m1-4v2m1-4v2m1-4v2m2-5v2m108-12v2m14-4v2m4-7v2m53-9v2m3 2v2m2 1v2m25 1v2m2 1v2m1 0v2m1 0v2m2 1v2m1 0v2m1-3v2m1-4v2m1-4v2m1-4v2m1-4v2m1-4v2m1-4v2m1-4v2" stroke="#1e90ff" fill="none"/>
</g>
<g shape-rendering="crispEdges">
<rect x="1195" y="114" width="3" height="2" fill="#ff0000"/><rect x="1195" y="234" width="3" height="2" fill="#00c800"/><rect x="1195" y="343" width="3" height="2" fill="#4059e3"/><rect x="1195" y="412" width="3" height="2" fill="#4059e3"/>
<rect x="1198" y="109" width="39" height="11" fill="#ff0000"/>
<rect x="1198" y="220" width="39" height="11" fill="#000"/>
<rect x="1198" y="229" width="39" height="11" fill="#00c800"/>
<rect x="1198" y="338" width="39" height="11" fill="#4059e3"/>
<rect x="1198" y="407" width="39" height="11" fill="#4059e3"/>
</g>
<polygon points="11,11 18,11 14.5,15" fill="#000"/>
<text x="22" y="16" textLength="44.5" lengthAdjust="spacingAndGlyphs">UKOil-,H4</text>
<text x="72" y="16" textLength="140.7" lengthAdjust="spacingAndGlyphs">108.259 108.299 107.359 107.505</text>
<text x="1201.4" y="37.5" textLength="31.2" lengthAdjust="spacingAndGlyphs">117.090</text>
<text x="1201.4" y="70.5" textLength="31.2" lengthAdjust="spacingAndGlyphs">115.440</text>
<text x="1201.4" y="103.5" textLength="31.2" lengthAdjust="spacingAndGlyphs">113.790</text>
<text x="1201.4" y="136.5" textLength="31.2" lengthAdjust="spacingAndGlyphs">112.090</text>
<text x="1201.4" y="169.5" textLength="31.2" lengthAdjust="spacingAndGlyphs">110.440</text>
<text x="1201.4" y="202.5" textLength="31.9" lengthAdjust="spacingAndGlyphs">108.790</text>
<text x="1201.4" y="268.5" textLength="31.9" lengthAdjust="spacingAndGlyphs">105.490</text>
<text x="1201.4" y="301.5" textLength="31.9" lengthAdjust="spacingAndGlyphs">103.790</text>
<text x="1201.4" y="334.5" textLength="31.9" lengthAdjust="spacingAndGlyphs">102.140</text>
<text x="1201.4" y="367.5" textLength="31.9" lengthAdjust="spacingAndGlyphs">100.490</text>
<text x="1201.4" y="400.5" textLength="27.0" lengthAdjust="spacingAndGlyphs">98.840</text>
<text x="1201.4" y="433.5" textLength="27.0" lengthAdjust="spacingAndGlyphs">97.190</text>
<text x="1201.4" y="118" textLength="31.2" lengthAdjust="spacingAndGlyphs" class="w">113.000</text>
<g clip-path="url(#cb)">
<text x="1201.4" y="229" textLength="31.9" lengthAdjust="spacingAndGlyphs" class="w">107.505</text>
</g>
<text x="1201.4" y="238" textLength="31.9" lengthAdjust="spacingAndGlyphs" class="w">107.000</text>
<text x="1201.4" y="347" textLength="31.9" lengthAdjust="spacingAndGlyphs" class="w">101.500</text>
<text x="1201.4" y="416" textLength="27.0" lengthAdjust="spacingAndGlyphs" class="w">98.000</text>
<text x="11.3" y="448" textLength="129" lengthAdjust="spacingAndGlyphs">MACD(12,26,9) 0.4390 0.5074</text>
<text x="11.3" y="565" textLength="68.3" lengthAdjust="spacingAndGlyphs">RSI(14) 54.5345</text>
<text x="1199" y="446" textLength="27.5" lengthAdjust="spacingAndGlyphs">2.7483</text>
<text x="1199" y="496.5" textLength="17.5" lengthAdjust="spacingAndGlyphs">0.00</text>
<text x="1199" y="547" textLength="30.5" lengthAdjust="spacingAndGlyphs">-2.7544</text>
<text x="1198.5" y="563" textLength="15.0" lengthAdjust="spacingAndGlyphs">100</text>
<text x="1197.6" y="593" textLength="10.0" lengthAdjust="spacingAndGlyphs">70</text>
<text x="1197.6" y="639" textLength="10.0" lengthAdjust="spacingAndGlyphs">30</text>
<text x="1197.8" y="668" textLength="5.0" lengthAdjust="spacingAndGlyphs">0</text>
<text x="6.5" y="684" textLength="53.3" lengthAdjust="spacingAndGlyphs">28 Mar 2022</text>
<text x="70.5" y="684" textLength="55.9" lengthAdjust="spacingAndGlyphs">29 Mar 16:00</text>
<text x="134.5" y="684" textLength="55.9" lengthAdjust="spacingAndGlyphs">31 Mar 00:00</text>
<text x="198.5" y="684" textLength="48.6" lengthAdjust="spacingAndGlyphs">1 Apr 08:00</text>
<text x="262.5" y="684" textLength="48.6" lengthAdjust="spacingAndGlyphs">4 Apr 16:00</text>
<text x="326.5" y="684" textLength="48.6" lengthAdjust="spacingAndGlyphs">6 Apr 00:00</text>
<text x="390.5" y="684" textLength="48.6" lengthAdjust="spacingAndGlyphs">7 Apr 08:00</text>
<text x="454.5" y="684" textLength="48.6" lengthAdjust="spacingAndGlyphs">8 Apr 16:00</text>
<text x="518.5" y="684" textLength="53.8" lengthAdjust="spacingAndGlyphs">12 Apr 00:00</text>
<text x="582.5" y="684" textLength="53.8" lengthAdjust="spacingAndGlyphs">13 Apr 08:00</text>
<text x="646.5" y="684" textLength="53.8" lengthAdjust="spacingAndGlyphs">14 Apr 16:00</text>
<text x="710.5" y="684" textLength="53.8" lengthAdjust="spacingAndGlyphs">19 Apr 00:00</text>
<text x="774.5" y="684" textLength="53.8" lengthAdjust="spacingAndGlyphs">20 Apr 08:00</text>
<text x="838.5" y="684" textLength="53.8" lengthAdjust="spacingAndGlyphs">21 Apr 16:00</text>
<text x="902.5" y="684" textLength="53.8" lengthAdjust="spacingAndGlyphs">25 Apr 00:00</text>
<text x="966.5" y="684" textLength="53.8" lengthAdjust="spacingAndGlyphs">26 Apr 08:00</text>
<text x="1030.5" y="684" textLength="53.8" lengthAdjust="spacingAndGlyphs">27 Apr 20:00</text>
<text x="1094.5" y="684" textLength="53.8" lengthAdjust="spacingAndGlyphs">29 Apr 04:00</text>
<text x="1158.5" y="684" textLength="52.2" lengthAdjust="spacingAndGlyphs">2 May 12:00</text>
<text x="432.2" y="65.3" class="ttl">多空转折点</text>
<text x="605.6" y="65" class="ttl" style="font-size:35.5px" textLength="57" lengthAdjust="spacingAndGlyphs">107</text>
</svg></body></html>
